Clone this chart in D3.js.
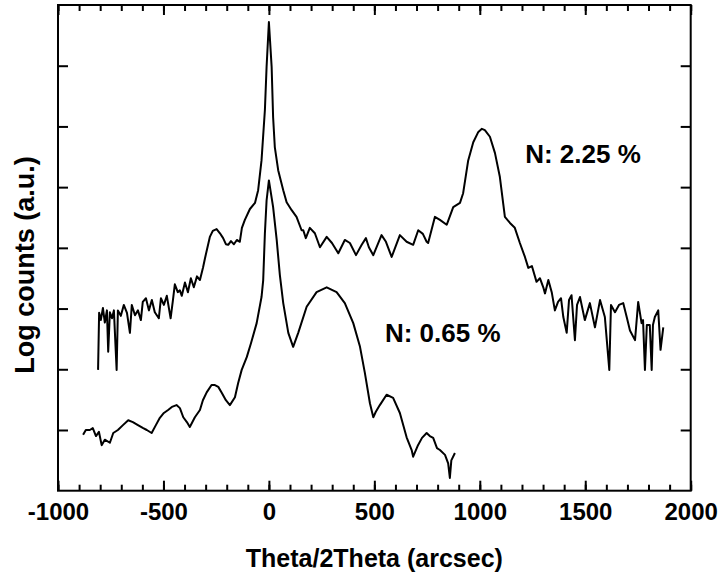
<!DOCTYPE html>
<html>
<head>
<meta charset="utf-8">
<script src="https://cdn.jsdelivr.net/npm/d3@7"></script>
<style>
    body { margin: 0; background: #fff; }
    svg { display: block; font-family: "Liberation Sans", Arial, sans-serif; font-weight: bold; }
    .tick line { stroke: #000; stroke-width: 2; }
    .tick text { font-size: 24px; fill: #000; }
</style>
</head>
<body>
<script>
// N: 2.25 % scan, [arcsec, log counts]
var highN = [
    [-810, 1.99], [-805, 2.93], [-797, 2.81], [-787, 3.01], [-778, 2.77], [-768, 2.97], [-762, 2.29],
    [-754, 2.94], [-744, 2.84], [-735, 2.97], [-722, 1.99], [-716, 2.97], [-702, 2.88], [-688, 3.06],
    [-673, 2.93], [-659, 2.60], [-650, 3.06], [-635, 2.89], [-621, 2.97], [-607, 2.81], [-598, 3.11],
    [-583, 3.17], [-569, 2.97], [-555, 3.14], [-541, 2.94], [-522, 2.84], [-512, 3.17], [-498, 3.06],
    [-484, 3.21], [-466, 2.84], [-455, 3.14], [-446, 3.40], [-432, 3.27], [-422, 3.30], [-413, 3.21],
    [-398, 3.43], [-384, 3.27], [-370, 3.50], [-356, 3.35], [-341, 3.53], [-327, 3.47], [-312, 3.68],
    [-303, 3.83], [-280, 4.18], [-266, 4.28], [-248, 4.31], [-232, 4.24], [-217, 4.16], [-204, 4.06],
    [-193, 4.05], [-180, 4.11], [-166, 4.06], [-152, 4.13], [-138, 4.10], [-128, 4.33], [-114, 4.46],
    [-90, 4.64], [-66, 4.74], [-51, 4.95], [-35, 5.44], [-19, 6.27], [-11, 6.98], [0, 7.72],
    [13, 6.98], [20, 6.15], [28, 5.66], [44, 5.28], [68, 4.95], [84, 4.75], [108, 4.62], [131, 4.51],
    [155, 4.29], [163, 4.29], [175, 4.16], [194, 4.33], [218, 4.24], [242, 4.01], [274, 4.18],
    [299, 4.08], [329, 3.91], [360, 4.13], [384, 4.08], [413, 3.88], [440, 4.05], [460, 4.16],
    [474, 4.01], [495, 3.88], [534, 4.21], [555, 4.10], [582, 3.85], [621, 4.21], [653, 4.10],
    [684, 4.05], [708, 4.29], [730, 4.23], [748, 4.10], [755, 4.08], [787, 4.51], [811, 4.46],
    [843, 4.38], [874, 4.67], [906, 4.74], [921, 4.90], [945, 5.44], [969, 5.74], [993, 5.91],
    [1010, 5.96], [1024, 5.94], [1048, 5.83], [1072, 5.56], [1095, 5.17], [1119, 4.51], [1143, 4.41],
    [1166, 4.33], [1190, 4.08], [1214, 3.85], [1230, 3.67], [1247, 3.70], [1269, 3.44], [1285, 3.50],
    [1301, 3.35], [1309, 3.25], [1325, 3.47], [1341, 3.27], [1356, 2.97], [1371, 3.11], [1385, 3.17],
    [1396, 2.86], [1412, 2.60], [1423, 3.14], [1435, 3.22], [1451, 2.48], [1461, 3.06], [1475, 3.19],
    [1498, 2.81], [1522, 3.09], [1546, 2.69], [1570, 3.14], [1593, 2.86], [1614, 1.99], [1622, 3.06],
    [1641, 2.94], [1660, 3.06], [1680, 3.09], [1698, 2.84], [1712, 2.64], [1736, 2.48], [1751, 3.11],
    [1767, 2.76], [1774, 2.81], [1783, 1.99], [1792, 2.73], [1806, 2.73], [1815, 1.99], [1821, 2.73],
    [1830, 2.86], [1846, 2.97], [1857, 2.32], [1870, 2.69]
];

// N: 0.65 % scan
var lowN = [
    [-881, 0.92], [-868, 1.00], [-849, 1.00], [-835, 1.03], [-820, 0.90], [-806, 0.97], [-793, 0.75],
    [-778, 0.84], [-754, 0.79], [-738, 0.95], [-716, 1.00], [-692, 1.08], [-667, 1.16], [-645, 1.13],
    [-621, 1.08], [-596, 1.03], [-579, 1.00], [-556, 0.95], [-536, 1.08], [-517, 1.20], [-498, 1.28],
    [-478, 1.33], [-460, 1.38], [-438, 1.41], [-422, 1.36], [-406, 1.21], [-389, 1.13], [-375, 1.05],
    [-351, 1.21], [-327, 1.33], [-313, 1.49], [-295, 1.62], [-272, 1.74], [-256, 1.74], [-240, 1.71],
    [-223, 1.61], [-204, 1.49], [-185, 1.41], [-161, 1.54], [-146, 1.77], [-129, 1.99], [-105, 2.20],
    [-85, 2.43], [-58, 2.76], [-35, 3.19], [-27, 3.47], [-19, 4.24], [-11, 4.78], [0, 5.11],
    [20, 4.67], [37, 4.13], [52, 3.55], [68, 3.09], [92, 2.60], [115, 2.37], [139, 2.60], [179, 3.03],
    [226, 3.27], [274, 3.35], [321, 3.27], [360, 3.09], [400, 2.76], [432, 2.37], [455, 1.94],
    [479, 1.44], [495, 1.21], [507, 1.30], [526, 1.41], [558, 1.58], [589, 1.53], [621, 1.28],
    [653, 0.88], [677, 0.67], [684, 0.56], [707, 0.75], [726, 0.87], [748, 0.95], [763, 0.90],
    [779, 0.87], [797, 0.70], [811, 0.67], [835, 0.59], [850, 0.45], [858, 0.21], [865, 0.50],
    [882, 0.62]
];

var xMajor = [-1000, -500, 0, 500, 1000, 1500, 2000];
var xMinor = d3.range(-1000, 2001, 100);
var yMajor = [1, 2, 3, 4, 5, 6, 7];

var labels = [
    { text: 'N: 2.25 %', at: [1215, 5.4] },
    { text: 'N: 0.65 %', at: [550, 2.45] }
];

var width = 721, height = 577;
var margin = { top: 5, right: 30.3, bottom: 86.3, left: 58 };
var innerW = width - margin.left - margin.right;
var innerH = height - margin.top - margin.bottom;

var x = d3.scaleLinear().domain([-1000, 2000]).range([0, innerW]);
var y = d3.scaleLinear().domain([0, 8]).range([innerH, 0]);

var svg = d3.select('body').append('svg')
    .attr('width', width)
    .attr('height', height);

var plot = svg.append('g')
    .attr('transform', 'translate(' + margin.left + ',' + margin.top + ')');

var line = d3.line()
    .x(function(d) { return x(d[0]); })
    .y(function(d) { return y(d[1]); });

[highN, lowN].forEach(function(series) {
    plot.append('path')
        .datum(series)
        .attr('fill', 'none')
        .attr('stroke', '#000')
        .attr('stroke-width', 2)
        .attr('stroke-linejoin', 'round')
        .attr('d', line);
});

// ticks point inward on all four sides
function addAxis(axis, tx, ty) {
    var g = plot.append('g')
        .attr('transform', 'translate(' + tx + ',' + ty + ')')
        .call(axis);
    g.select('.domain').remove();
    return g;
}

addAxis(d3.axisBottom(x).tickValues(xMinor).tickSize(-6).tickFormat(''), 0, innerH);
addAxis(d3.axisTop(x).tickValues(xMinor).tickSize(-6).tickFormat(''), 0, 0);
addAxis(d3.axisBottom(x).tickValues(xMajor).tickSize(-10).tickPadding(12)
    .tickFormat(function(d) { return String(d); }), 0, innerH);
addAxis(d3.axisTop(x).tickValues(xMajor).tickSize(-10).tickFormat(''), 0, 0);
addAxis(d3.axisLeft(y).tickValues(yMajor).tickSize(-10).tickFormat(''), 0, 0);
addAxis(d3.axisRight(y).tickValues(yMajor).tickSize(-10).tickFormat(''), innerW, 0);

plot.selectAll('.tick text').style('font-family', null).style('font-weight', 'bold');

plot.append('rect')
    .attr('width', innerW)
    .attr('height', innerH)
    .attr('fill', 'none')
    .attr('stroke', '#000')
    .attr('stroke-width', 2);

plot.selectAll('.note')
    .data(labels)
    .enter().append('text')
    .attr('class', 'note')
    .attr('x', function(d) { return x(d.at[0]); })
    .attr('y', function(d) { return y(d.at[1]); })
    .attr('font-size', 26)
    .text(function(d) { return d.text; });

svg.append('text')
    .attr('x', margin.left + innerW / 2)
    .attr('y', 567)
    .attr('text-anchor', 'middle')
    .attr('font-size', 25)
    .text('Theta/2Theta (arcsec)');

svg.append('text')
    .attr('transform', 'translate(34,' + 265 + ') rotate(-90)')
    .attr('text-anchor', 'middle')
    .attr('font-size', 27)
    .text('Log counts (a.u.)');
</script>
</body>
</html>
